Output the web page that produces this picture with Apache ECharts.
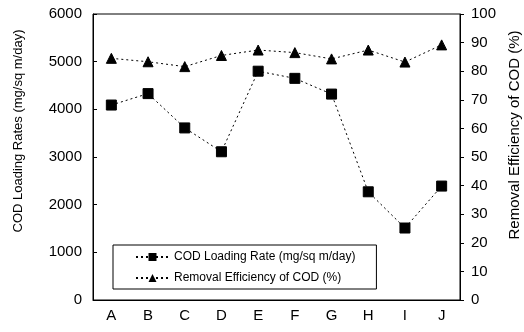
<!DOCTYPE html>
<html><head><meta charset="utf-8">
<script src="https://cdn.jsdelivr.net/npm/echarts@6/dist/echarts.min.js"></script>
<style>html,body{margin:0;padding:0;background:#fff}#c{width:524px;height:332px}</style>
</head><body><div id="c"></div>
<script>
var categories = ['A','B','C','D','E','F','G','H','I','J'];
var loadingRate = [4090, 4330, 3610, 3110, 4800, 4650, 4320, 2270, 1510, 2390];
var removalEff = [84.5, 83.3, 81.6, 85.5, 87.4, 86.5, 84.3, 87.4, 83.2, 89.2];
var leftTicks = [0, 6000, 1000];
var rightTicks = [0, 100, 10];

var font = 'Liberation Sans, Arial, sans-serif';
var chart = echarts.init(document.getElementById('c'));
chart.setOption({
  animation: false,
  backgroundColor: '#fff',
  grid: {left: 93, right: 64, top: 14, bottom: 32, outerBoundsMode: 'none', containLabel: false,
    show: true, borderColor: '#000', borderWidth: 1, backgroundColor: 'transparent'},
  legend: {
    orient: 'vertical', left: 113, top: 245,
    backgroundColor: '#fff', borderColor: '#000', borderWidth: 1,
    padding: [6, 21, 5, 22], itemGap: 9, itemWidth: 33, itemHeight: 10,
    textStyle: {fontFamily: font, fontSize: 12, color: '#000'},
    data: ['COD Loading Rate (mg/sq m/day)', 'Removal Efficiency of COD (%)']
  },
  xAxis: {
    type: 'category', data: categories, boundaryGap: true,
    axisLine: {lineStyle: {color: '#000', width: 1}},
    axisTick: {inside: true, length: 4, lineStyle: {color: '#000'}},
    axisLabel: {fontFamily: font, fontSize: 15, color: '#000', margin: 8},
    splitLine: {show: false}
  },
  yAxis: [{
    type: 'value', min: leftTicks[0], max: leftTicks[1], interval: leftTicks[2],
    name: 'COD Loading Rates (mg/sq m/day)', nameLocation: 'middle', nameGap: 68, nameRotate: 90,
    nameTextStyle: {fontFamily: font, fontSize: 13, color: '#000', padding: [0, 0, 0, 52]},
    axisLine: {show: true, lineStyle: {color: '#000'}},
    axisTick: {show: true, inside: true, length: 4, lineStyle: {color: '#000'}},
    axisLabel: {fontFamily: font, fontSize: 15, color: '#000', margin: 11, formatter: function (v) { return String(v); }},
    splitLine: {show: false}
  }, {
    type: 'value', min: rightTicks[0], max: rightTicks[1], interval: rightTicks[2], position: 'right',
    name: 'Removal Efficiency of COD (%)', nameLocation: 'middle', nameGap: 47, nameRotate: 90,
    nameTextStyle: {fontFamily: font, fontSize: 15, color: '#000', padding: [0, 0, 0, 44]},
    axisLine: {show: true, lineStyle: {color: '#000'}},
    axisTick: {show: true, inside: false, length: 4, lineStyle: {color: '#000'}},
    axisLabel: {fontFamily: font, fontSize: 15, color: '#000', margin: 11, formatter: function (v) { return String(v); }},
    splitLine: {show: false}
  }],
  series: [{
    name: 'COD Loading Rate (mg/sq m/day)', type: 'line', yAxisIndex: 0, data: loadingRate,
    symbol: 'rect', symbolSize: 10,
    lineStyle: {color: '#000', width: 1, type: [2, 3]},
    itemStyle: {color: '#000', borderColor: '#000'}
  }, {
    name: 'Removal Efficiency of COD (%)', type: 'line', yAxisIndex: 1, data: removalEff,
    symbol: 'triangle', symbolSize: 10,
    lineStyle: {color: '#000', width: 1, type: [2, 3]},
    itemStyle: {color: '#000', borderColor: '#000'}
  }]
});
</script></body></html>
